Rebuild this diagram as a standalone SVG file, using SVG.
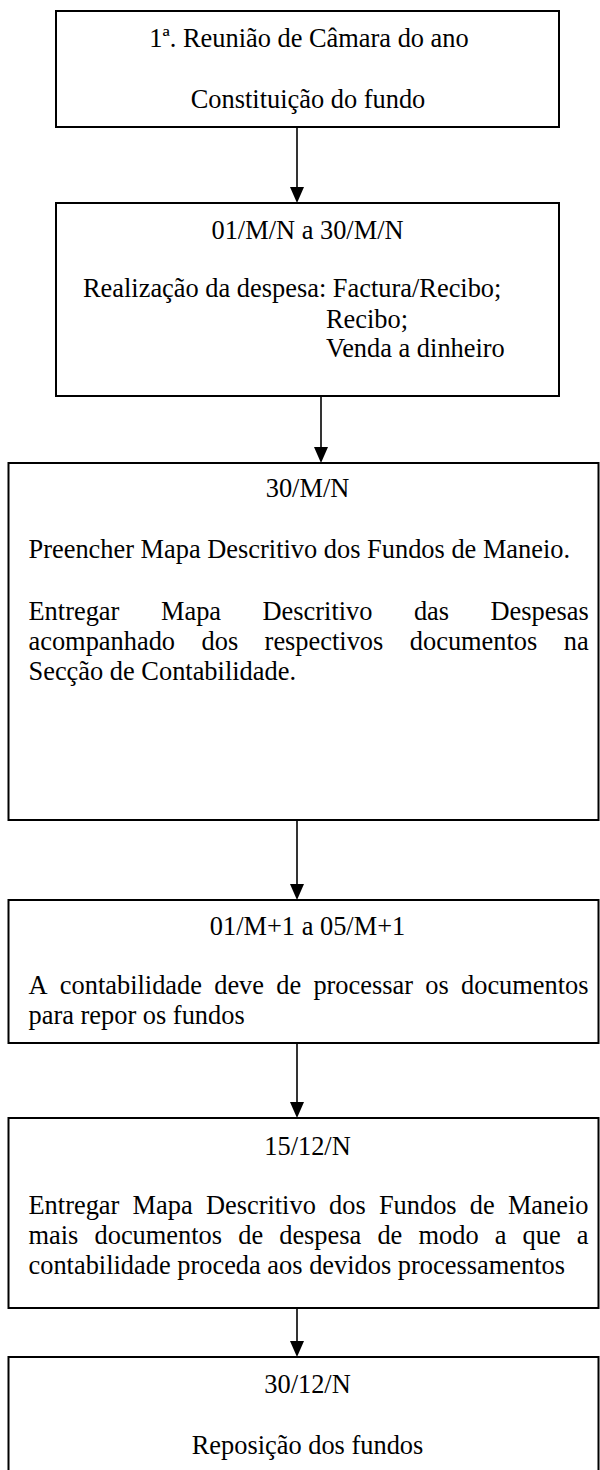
<svg xmlns="http://www.w3.org/2000/svg" width="600" height="1470" viewBox="0 0 600 1470">
<style>
  .box { fill: #ffffff; stroke: #000000; stroke-width: 2; }
  .t { font-family: "Liberation Serif", "Times New Roman", serif; font-size: 26.4px; fill: #000000; }
  .c { text-anchor: middle; }
  .edge { stroke: #000000; stroke-width: 1.6; fill: none; }
  .head { fill: #000000; stroke: none; }
</style>
<rect width="600" height="1470" fill="#ffffff"/>

<g id="connectors">
  <line class="edge" x1="297" y1="127" x2="297" y2="190"/>
  <polygon class="head" points="290,187 304,187 297,203"/>
  <line class="edge" x1="321" y1="396" x2="321" y2="450"/>
  <polygon class="head" points="314,447 328,447 321,463"/>
  <line class="edge" x1="297" y1="820" x2="297" y2="887"/>
  <polygon class="head" points="290,884 304,884 297,900"/>
  <line class="edge" x1="297" y1="1043" x2="297" y2="1105"/>
  <polygon class="head" points="290,1102 304,1102 297,1118"/>
  <line class="edge" x1="297" y1="1308" x2="297" y2="1344"/>
  <polygon class="head" points="290,1341 304,1341 297,1357"/>
</g>

<g id="node1">
  <rect class="box" x="56" y="11" width="503" height="116"/>
  <text class="t c" x="309" y="47">1ª. Reunião de Câmara do ano</text>
  <text class="t c" x="308" y="108">Constituição do fundo</text>
</g>

<g id="node2">
  <rect class="box" x="56" y="203" width="503" height="193"/>
  <text class="t c" x="307.5" y="239">01/M/N a 30/M/N</text>
  <text class="t" x="83" y="297">Realização da despesa: Factura/Recibo;</text>
  <text class="t" x="326" y="328">Recibo;</text>
  <text class="t" x="326" y="357">Venda a dinheiro</text>
</g>

<g id="node3">
  <rect class="box" x="8.5" y="463" width="590" height="357"/>
  <text class="t c" x="307.5" y="497">30/M/N</text>
  <text class="t" x="28.5" y="558">Preencher Mapa Descritivo dos Fundos de Maneio.</text>
  <text class="t" y="620"><tspan x="28.5">Entregar</tspan><tspan x="161">Mapa</tspan><tspan x="262.5">Descritivo</tspan><tspan x="413.9">das</tspan><tspan x="490.5">Despesas</tspan></text>
  <text class="t" y="650"><tspan x="28.5">acompanhado</tspan><tspan x="201.5">dos</tspan><tspan x="264.6">respectivos</tspan><tspan x="409.8">documentos</tspan><tspan x="563.7">na</tspan></text>
  <text class="t" x="28.5" y="680">Secção de Contabilidade.</text>
</g>

<g id="node4">
  <rect class="box" x="8.5" y="900" width="590" height="143"/>
  <text class="t c" x="307.5" y="935">01/M+1 a 05/M+1</text>
  <text class="t" y="994"><tspan x="28.5">A</tspan><tspan x="59.8">contabilidade</tspan><tspan x="214.2">deve</tspan><tspan x="276.3">de</tspan><tspan x="313.4">processar</tspan><tspan x="425.3">os</tspan><tspan x="461">documentos</tspan></text>
  <text class="t" x="28.5" y="1024">para repor os fundos</text>
</g>

<g id="node5">
  <rect class="box" x="8.5" y="1118" width="590" height="190"/>
  <text class="t c" x="307.5" y="1155">15/12/N</text>
  <text class="t" y="1214"><tspan x="28.5">Entregar</tspan><tspan x="132.6">Mapa</tspan><tspan x="205.9">Descritivo</tspan><tspan x="329">dos</tspan><tspan x="378.9">Fundos</tspan><tspan x="469.8">de</tspan><tspan x="507.9">Maneio</tspan></text>
  <text class="t" y="1244"><tspan x="28.5">mais</tspan><tspan x="94.5">documentos</tspan><tspan x="238.2">de</tspan><tspan x="279.2">despesa</tspan><tspan x="377.4">de</tspan><tspan x="418.5">modo</tspan><tspan x="494.7">a</tspan><tspan x="522.6">que</tspan><tspan x="576.8">a</tspan></text>
  <text class="t" x="28.5" y="1274">contabilidade proceda aos devidos processamentos</text>
</g>

<g id="node6">
  <rect class="box" x="8.5" y="1357" width="590" height="130"/>
  <text class="t c" x="307.5" y="1393">30/12/N</text>
  <text class="t c" x="307.5" y="1454">Reposição dos fundos</text>
</g>
</svg>
